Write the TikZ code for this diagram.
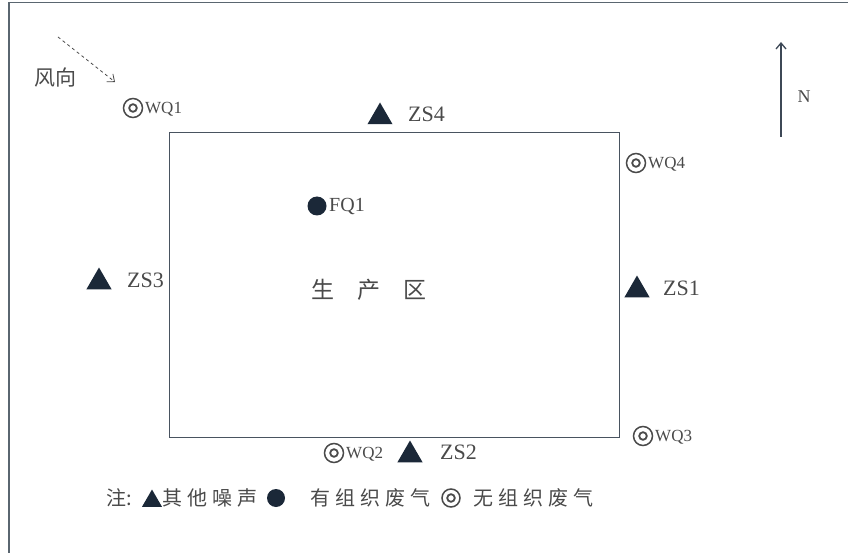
\documentclass[tikz,border=0pt]{standalone}
\usepackage{fontspec}
\setmainfont{Liberation Serif}
\newfontfamily\cjk{Noto Sans CJK SC}
\usetikzlibrary{shapes.geometric,arrows.meta}
\definecolor{ink}{HTML}{1B2838}
\definecolor{txt}{HTML}{4A4A4A}
\definecolor{frame}{HTML}{5A6670}
\newcommand\gp{\hspace{5pt}}
\begin{document}
\begin{tikzpicture}[x=1pt,y=-1pt,
  tri/.style={regular polygon,regular polygon sides=3,fill=ink,draw=none,minimum size=29pt,inner sep=0pt},
  dotm/.style={circle,fill=ink,minimum size=19pt,inner sep=0pt},
  lbl/.style={text=txt,font=\fontsize{22}{22}\selectfont,inner sep=0pt,anchor=west},
  wq/.style={text=txt,font=\fontsize{17}{17}\selectfont,inner sep=0pt,anchor=west},
  cjkt/.style={text=txt,font=\cjk\fontsize{20}{20}\selectfont,inner sep=0pt},
  ring/.style={circle,draw=txt,line width=1.5pt,minimum size=19pt,inner sep=0pt,
    path picture={\draw[txt,line width=1.8pt] (path picture bounding box.center) circle (3.8pt);}}
]
\useasboundingbox (0,0) rectangle (848,553);
% outer frame (left and top edges visible)
\draw[frame,line width=1.6pt] (9,553) -- (9,2.5) -- (848,2.5);
% production area
\node[draw=ink!80,line width=1pt,minimum width=450pt,minimum height=304pt,inner sep=0pt] (area) at (394,285) {};
\node[cjkt,font=\cjk\fontsize{23}{23}\selectfont] (prod) at (369,290) {生\hspace{23pt}产\hspace{23pt}区};
% wind direction
\node[cjkt,font=\cjk\fontsize{21}{21}\selectfont] (wind) at (55,78) {风向};
\coordinate (w1) at (58,37);
\coordinate (w2) at (115,82);
\draw[txt,dashed,line width=0.8pt,-{Straight Barb[length=6pt,width=10pt]}] (w1) -- (w2);
% north arrow
\coordinate (n1) at (781,137);
\coordinate (n2) at (781,42);
\draw[ink!85,line width=1.3pt,-{Straight Barb[length=6pt,width=10pt]}] (n1) -- (n2);
\node[text=txt,font=\fontsize{18}{18}\selectfont,inner sep=0pt] (north) at (804,97) {N};
% WQ points
\node[ring] (wq1) at (133,108) {};
\node[wq] (wq1t) at (145,109) {WQ1};
\node[ring] (wq4) at (636,163) {};
\node[wq] (wq4t) at (648,164) {WQ4};
\node[ring] (wq3) at (643,436) {};
\node[wq] (wq3t) at (655,437) {WQ3};
\node[ring] (wq2) at (334,453) {};
\node[wq] (wq2t) at (346,454) {WQ2};
% FQ1
\node[dotm] (fq1) at (317,206) {};
\node[lbl,font=\fontsize{20}{20}\selectfont] (fq1t) at (329,207) {FQ1};
% ZS points
\node[tri] (zs4) at (380,117) {};
\node[lbl] (zs4t) at (408,114) {ZS4};
\node[tri] (zs3) at (99,282) {};
\node[lbl] (zs3t) at (127,280) {ZS3};
\node[tri] (zs1) at (637,290) {};
\node[lbl] (zs1t) at (663,288) {ZS1};
\node[tri] (zs2) at (410,455) {};
\node[lbl] (zs2t) at (440,452) {ZS2};
% legend
\node[cjkt,anchor=west] (n0) at (106,498) {注:};
\node[tri,minimum size=23pt] (ltri) at (152,501) {};
\node[cjkt,anchor=west] (n1t) at (162,498) {其\gp 他\gp 噪\gp 声};
\node[dotm,minimum size=18pt] (ldot) at (276,498) {};
\node[cjkt,anchor=west] (n2t) at (310,498) {有\gp 组\gp 织\gp 废\gp 气};
\node[ring,minimum size=18pt] (lring) at (451,498) {};
\node[cjkt,anchor=west] (n3t) at (473,498) {无\gp 组\gp 织\gp 废\gp 气};
\end{tikzpicture}
\end{document}
